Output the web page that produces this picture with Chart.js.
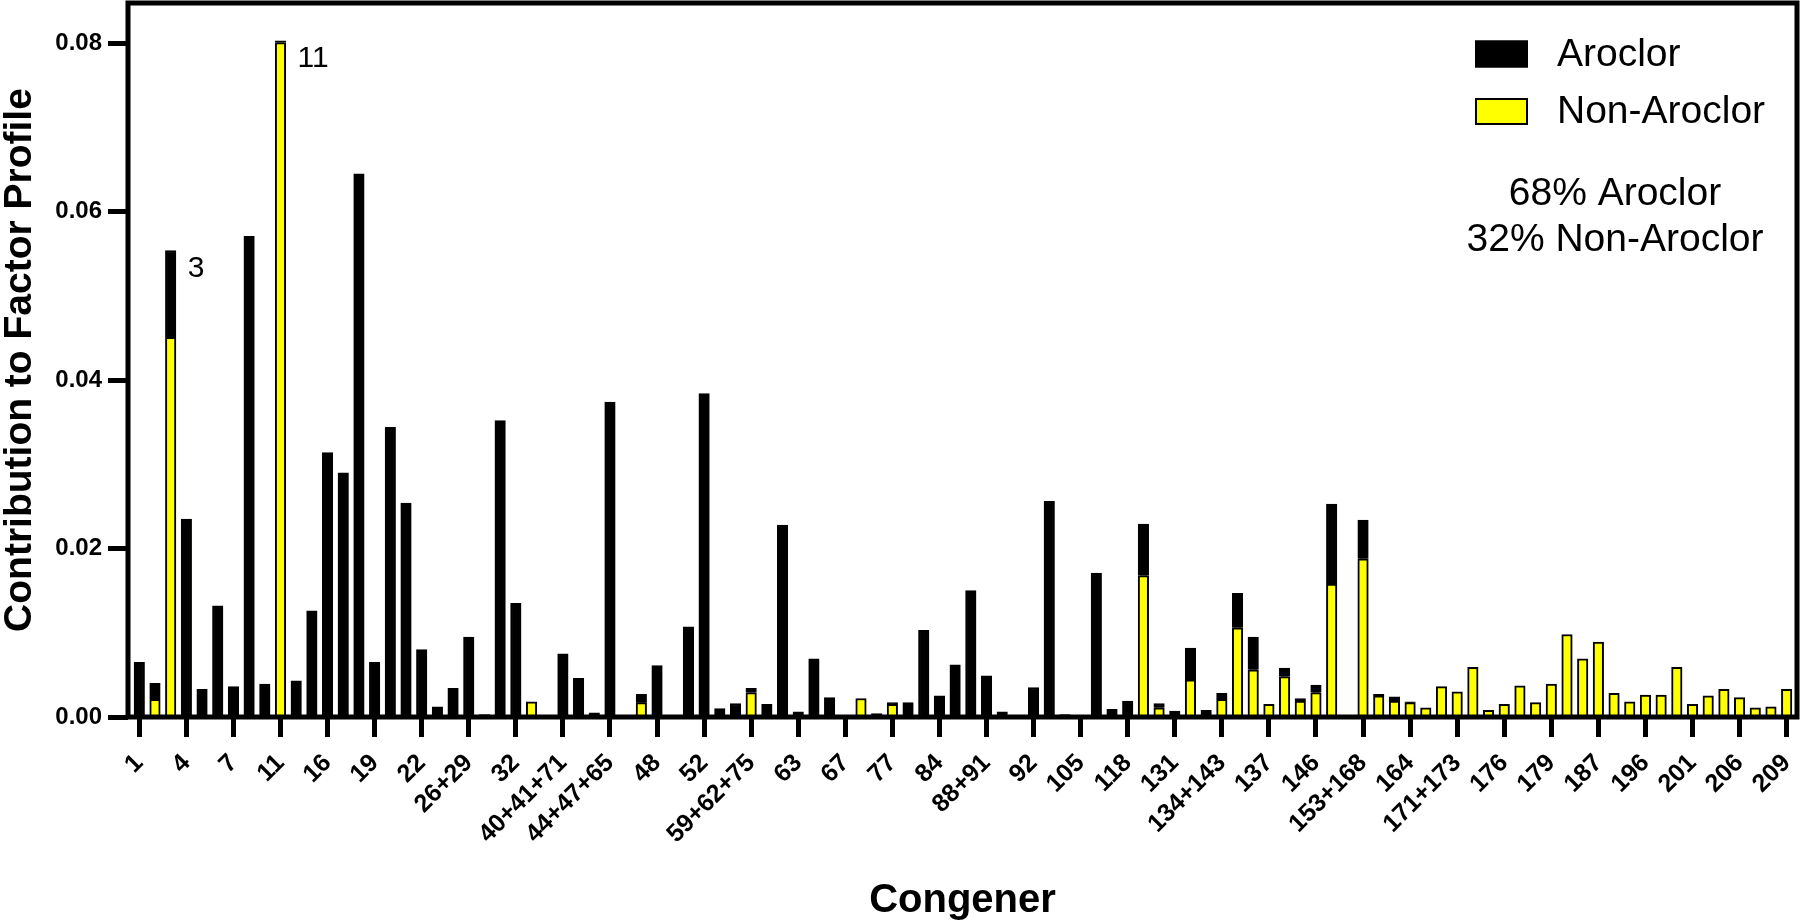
<!DOCTYPE html>
<html>
<head>
<meta charset="utf-8">
<script src="https://cdn.jsdelivr.net/npm/chart.js@4/dist/chart.umd.min.js"></script>
<style>
  html, body { margin: 0; padding: 0; background: #fff; }
  #wrap { width: 1800px; height: 923px; }
</style>
</head>
<body>
<div id="wrap"><canvas id="c" width="1800" height="923"></canvas></div>
<script>
// ---- data ----
const tickStep = 3; // one labelled tick every third congener slot
const tickLabels = ['1','4','7','11','16','19','22','26+29','32','40+41+71','44+47+65','48','52','59+62+75','63','67','77','84','88+91','92','105','118','131','134+143','137','146','153+168','164','171+173','176','179','187','196','201','206','209'];

const aroclor = [
  0.0065, 0.0019, 0.0103, 0.0235, 0.0033, 0.0132, 0.0036, 0.0571, 0.0039, 0.0002,
  0.0043, 0.0126, 0.0314, 0.0290, 0.0645, 0.0065, 0.0344, 0.0254, 0.0080, 0.0012,
  0.0034, 0.0095, 0.0003, 0.0352, 0.0135, 0.0000, 0.0000, 0.0075, 0.0046, 0.0005,
  0.0374, 0.0000, 0.0010, 0.0061, 0.0000, 0.0107, 0.0384, 0.0010, 0.0016, 0.0005,
  0.0015, 0.0228, 0.0006, 0.0069, 0.0023, 0.0000, 0.0000, 0.0004, 0.0002, 0.0017,
  0.0103, 0.0025, 0.0062, 0.0150, 0.0049, 0.0006, 0.0000, 0.0035, 0.0256, 0.0003,
  0.0001, 0.0171, 0.0009, 0.0019, 0.0061, 0.0005, 0.0007, 0.0038, 0.0008, 0.0007,
  0.0041, 0.0039, 0.0000, 0.0010, 0.0003, 0.0009, 0.0095, 0.0002, 0.0046, 0.0002,
  0.0005, 0.0001, 0.0000, 0.0000, 0.0000, 0.0000, 0.0000, 0.0000, 0.0000, 0.0000,
  0.0000, 0.0000, 0.0000, 0.0000, 0.0000, 0.0000, 0.0000, 0.0000, 0.0000, 0.0000,
  0.0000, 0.0000, 0.0000, 0.0000, 0.0000, 0.0000
];
const nonAroclor = [
  0.0000, 0.0021, 0.0451, 0.0000, 0.0000, 0.0000, 0.0000, 0.0000, 0.0000, 0.0801,
  0.0000, 0.0000, 0.0000, 0.0000, 0.0000, 0.0000, 0.0000, 0.0000, 0.0000, 0.0000,
  0.0000, 0.0000, 0.0000, 0.0000, 0.0000, 0.0018, 0.0000, 0.0000, 0.0000, 0.0000,
  0.0000, 0.0000, 0.0017, 0.0000, 0.0000, 0.0000, 0.0000, 0.0000, 0.0000, 0.0029,
  0.0000, 0.0000, 0.0000, 0.0000, 0.0000, 0.0000, 0.0022, 0.0000, 0.0015, 0.0000,
  0.0000, 0.0000, 0.0000, 0.0000, 0.0000, 0.0000, 0.0000, 0.0000, 0.0000, 0.0000,
  0.0000, 0.0000, 0.0000, 0.0000, 0.0168, 0.0011, 0.0000, 0.0044, 0.0000, 0.0021,
  0.0106, 0.0056, 0.0015, 0.0048, 0.0019, 0.0029, 0.0158, 0.0000, 0.0188, 0.0025,
  0.0019, 0.0017, 0.0011, 0.0036, 0.0030, 0.0059, 0.0008, 0.0015, 0.0037, 0.0017,
  0.0039, 0.0098, 0.0069, 0.0089, 0.0028, 0.0018, 0.0026, 0.0026, 0.0059, 0.0015,
  0.0025, 0.0033, 0.0023, 0.0011, 0.0012, 0.0033
];
const yTicks = [0, 0.02, 0.04, 0.06, 0.08];
const peakLabels = [{ index: 2, text: '3' }, { index: 9, text: '11' }];
const summaryLines = ['68% Aroclor', '32% Non-Aroclor'];

// ---- chart ----
const FONT = "'Liberation Sans', Arial, Helvetica, sans-serif";

const framePlugin = {
  id: 'frame',
  afterDatasetsDraw(chart) {
    const { ctx, chartArea: a } = chart;
    ctx.save();
    ctx.strokeStyle = '#000';
    ctx.lineWidth = 5;
    ctx.strokeRect(a.left, a.top, a.right - a.left, a.bottom - a.top);
    ctx.restore();
  }
};

const notesPlugin = {
  id: 'notes',
  afterDraw(chart) {
    const { ctx, chartArea: a } = chart;
    const xs = chart.scales.x, ys = chart.scales.y;
    ctx.save();
    ctx.fillStyle = '#000';
    // peak labels beside bars
    ctx.font = '30px ' + FONT;
    ctx.textAlign = 'left';
    ctx.textBaseline = 'top';
    peakLabels.forEach(p => {
      const tot = aroclor[p.index] + nonAroclor[p.index];
      ctx.fillText(p.text, xs.getPixelForValue(p.index) + 17, ys.getPixelForValue(tot) + 3);
    });
    // legend
    const ds = chart.data.datasets;
    const order = [1, 0];
    const boxL = a.right - 322, boxW = 53, boxH = 27, textL = a.right - 240;
    ctx.font = '39px ' + FONT;
    ctx.textBaseline = 'middle';
    order.forEach((di, k) => {
      const cy = 54 + k * 57.5;
      ctx.fillStyle = ds[di].backgroundColor;
      ctx.fillRect(boxL, cy - boxH / 2, boxW, boxH);
      ctx.lineWidth = 2;
      ctx.strokeStyle = '#000';
      ctx.strokeRect(boxL + 1, cy - boxH / 2 + 1, boxW - 2, boxH - 2);
      ctx.fillStyle = '#000';
      ctx.fillText(ds[di].label, textL, cy + 1);
    });
    // summary text
    ctx.textAlign = 'center';
    ctx.textBaseline = 'alphabetic';
    summaryLines.forEach((t, k) => {
      ctx.fillText(t, a.right - 182, 205 + k * 46);
    });
    ctx.restore();
  }
};

new Chart(document.getElementById('c'), {
  type: 'bar',
  data: {
    datasets: [
      {
        label: 'Non-Aroclor',
        data: nonAroclor.map((v, i) => ({ x: i, y: v })),
        backgroundColor: '#ffff00',
        borderColor: '#000000',
        borderWidth: 2,
        stack: 'pcb',
        barThickness: 10.5
      },
      {
        label: 'Aroclor',
        data: aroclor.map((v, i) => ({ x: i, y: v })),
        backgroundColor: '#000000',
        borderColor: '#000000',
        borderWidth: 2,
        stack: 'pcb',
        barThickness: 10.5
      }
    ]
  },
  options: {
    responsive: false,
    animation: false,
    layout: { padding: { top: 3, right: 3, left: 0, bottom: 0 } },
    plugins: {
      legend: { display: false },
      tooltip: { enabled: false }
    },
    scales: {
      x: {
        type: 'linear',
        offset: false,
        min: -0.72,
        max: 105.66,
        afterBuildTicks: s => { s.ticks = tickLabels.map((_, k) => ({ value: k * tickStep })); },
        afterFit: s => { s.height = 206; s.paddingLeft = 0; s.paddingRight = 0; },
        grid: { display: true, offset: false, drawOnChartArea: false, drawTicks: true, tickLength: 20, tickWidth: 5, tickColor: '#000' },
        border: { display: false },
        ticks: {
          autoSkip: false,
          minRotation: 45,
          maxRotation: 45,
          padding: 22,
          color: '#000',
          font: { family: FONT, size: 25, weight: 'bold', lineHeight: 0 },
          callback: v => tickLabels[Math.round(v / tickStep)]
        },
        title: {
          display: true,
          text: 'Congener',
          color: '#000',
          font: { family: FONT, size: 40, weight: 'bold', lineHeight: 1 },
          padding: { top: 0, bottom: 2 }
        }
      },
      y: {
        stacked: true,
        min: 0,
        max: 0.0848,
        afterBuildTicks: s => { s.ticks = yTicks.map(v => ({ value: v })); },
        afterFit: s => { s.width = 128; s.paddingTop = 0; s.paddingBottom = 0; },
        grid: { display: true, drawOnChartArea: false, drawTicks: true, tickLength: 20, tickWidth: 5, tickColor: '#000' },
        border: { display: false },
        ticks: {
          padding: 6,
          color: '#000',
          font: { family: FONT, size: 24, weight: 'bold' },
          callback: v => Number(v).toFixed(2)
        },
        title: {
          display: true,
          text: 'Contribution to Factor Profile',
          color: '#000',
          font: { family: FONT, size: 39, weight: 'bold', lineHeight: 1 },
          padding: { top: 1, bottom: 0 }
        }
      }
    }
  },
  plugins: [framePlugin, notesPlugin]
});
</script>
</body>
</html>
